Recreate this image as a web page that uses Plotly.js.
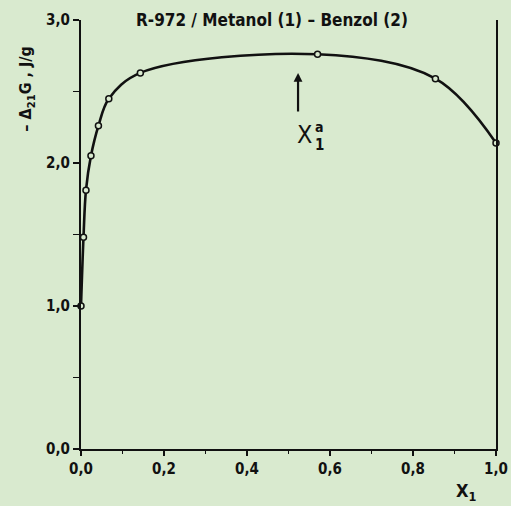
<!DOCTYPE html>
<html>
<head>
<meta charset="utf-8">
<script src="https://cdn.plot.ly/plotly-3.0.1.min.js"></script>
<style>html,body{margin:0;padding:0;background:#d9eacf;}</style>
</head>
<body>
<div id="chart" style="width:511px;height:506px;"></div>
<script>
// Data
const x1Values = [0, 0.006, 0.012, 0.024, 0.042, 0.067, 0.143, 0.570, 0.854, 1.0];
const deltaG = [1.00, 1.48, 1.81, 2.05, 2.26, 2.45, 2.63, 2.76, 2.59, 2.14];
const xTickVals = [0, 0.2, 0.4, 0.6, 0.8, 1.0];
const xTickText = ['0,0', '0,2', '0,4', '0,6', '0,8', '1,0'];
const yTickVals = [0, 1, 2, 3];
const yTickText = ['0,0', '1,0', '2,0', '3,0'];
const azeotropeX = 0.523;
const arrowTipY = 2.63;
const arrowTailY = 2.35;

const bg = '#d9eacf';
const fnt = 'DejaVu Sans Condensed, Liberation Sans Narrow, sans-serif';

const trace = {
  x: x1Values, y: deltaG, type: 'scatter', mode: 'lines+markers',
  line: {color: '#111', width: 2.6, shape: 'spline', smoothing: 1},
  marker: {symbol: 'circle', size: 6, color: bg, line: {color: '#111', width: 1.5}},
  cliponaxis: false, showlegend: false
};
const rightLine = {x: [1], y: [null], yaxis: 'y2', showlegend: false, hoverinfo: 'skip'};

const layout = {
  width: 511, height: 506,
  paper_bgcolor: bg, plot_bgcolor: bg,
  margin: {l: 81, r: 15, t: 20, b: 57},
  separators: ',.',
  font: {family: fnt, size: 15, color: '#111', weight: 600},
  showlegend: false,
  xaxis: {
    range: [0, 1], showgrid: false, zeroline: false,
    showline: true, linecolor: '#111', linewidth: 2,
    tickmode: 'array', tickvals: xTickVals, ticktext: xTickText,
    ticks: 'outside', ticklen: 5, tickwidth: 1.5, tickcolor: '#111',
    minor: {dtick: 0.1, ticks: 'outside', ticklen: 3, tickwidth: 1.5, tickcolor: '#111'},
    tickfont: {family: fnt, size: 15, color: '#111', weight: 600}
  },
  yaxis: {
    range: [0, 3.0], showgrid: false, zeroline: false,
    showline: true, linecolor: '#111', linewidth: 2,
    tickmode: 'array', tickvals: yTickVals, ticktext: yTickText,
    ticks: 'outside', ticklen: 6, tickwidth: 1.5, tickcolor: '#111',
    minor: {dtick: 0.5, ticks: 'outside', ticklen: 6, tickwidth: 1.5, tickcolor: '#111'},
    tickfont: {family: fnt, size: 15, color: '#111', weight: 600}
  },
  yaxis2: {
    overlaying: 'y', side: 'right', range: [0, 3.0],
    showline: true, linecolor: '#111', linewidth: 2,
    showticklabels: false, ticks: '', showgrid: false, zeroline: false
  },
  annotations: [
    {text: 'R-972 / Metanol (1) – Benzol (2)', xref: 'paper', yref: 'paper',
     x: 0.46, y: 1.0, xanchor: 'center', yanchor: 'middle', showarrow: false,
     font: {family: fnt, size: 17, color: '#111', weight: 600}},
    {text: '– Δ<sub>21</sub>G , J/g', xref: 'paper', yref: 'paper',
     x: -0.13, y: 0.84, textangle: -90, xanchor: 'center', yanchor: 'middle',
     showarrow: false, font: {family: fnt, size: 16, color: '#111', weight: 600}},
    {text: 'X<sub>1</sub>', xref: 'paper', yref: 'paper',
     x: 0.93, y: -0.1, xanchor: 'center', yanchor: 'middle', showarrow: false,
     font: {family: fnt, size: 18, color: '#111', weight: 600}},
    {text: '', x: azeotropeX, y: arrowTipY, ax: azeotropeX, ay: arrowTailY,
     axref: 'x', ayref: 'y', showarrow: true, arrowhead: 2, arrowsize: 0.8,
     arrowwidth: 2.2, arrowcolor: '#111'},
    {text: 'X', x: azeotropeX, y: arrowTailY, yshift: -22, xshift: 6,
     showarrow: false, xanchor: 'center', yanchor: 'middle',
     font: {family: fnt, size: 25, color: '#111', weight: 400}},
    {text: 'a', x: azeotropeX, y: arrowTailY, yshift: -14, xshift: 21,
     showarrow: false, xanchor: 'center', yanchor: 'middle',
     font: {family: fnt, size: 14, color: '#111', weight: 600}},
    {text: '1', x: azeotropeX, y: arrowTailY, yshift: -32, xshift: 21,
     showarrow: false, xanchor: 'center', yanchor: 'middle',
     font: {family: fnt, size: 15, color: '#111', weight: 600}}
  ]
};

Plotly.newPlot('chart', [trace, rightLine], layout, {displayModeBar: false, staticPlot: true});
</script>
</body>
</html>
